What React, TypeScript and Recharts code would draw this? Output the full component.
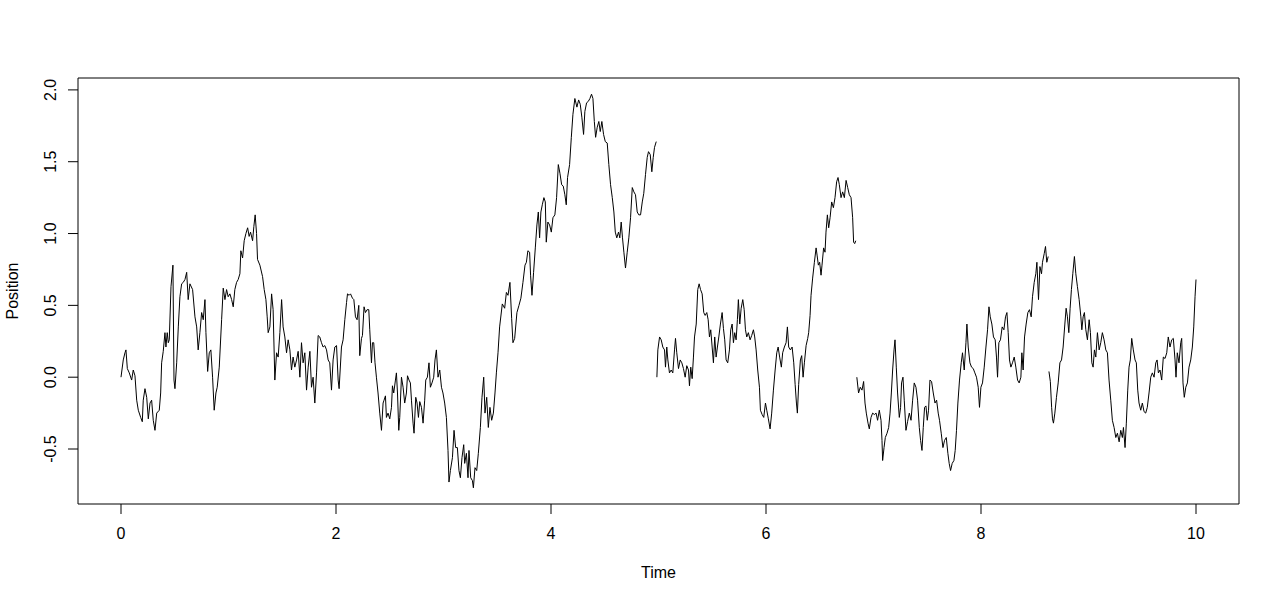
import React from 'react';
import { LineChart, Line, XAxis, YAxis, ReferenceArea } from 'recharts';

// Time / position readings for the four pieces of the path (each restarts at 0)
const seg1Time = [
  0.0, 0.021, 0.037, 0.046, 0.059, 0.077, 0.099, 0.114, 0.13, 0.146, 0.161, 0.183, 0.198, 0.207, 0.223, 0.239,
  0.254, 0.27, 0.285, 0.3, 0.316, 0.332, 0.356, 0.369, 0.378, 0.393, 0.409, 0.418, 0.43, 0.44, 0.449, 0.465,
  0.483, 0.493, 0.502, 0.518, 0.533, 0.548, 0.564, 0.579, 0.595, 0.611, 0.625, 0.641, 0.666, 0.688, 0.704, 0.718,
  0.734, 0.75, 0.765, 0.781, 0.79, 0.806, 0.821, 0.836, 0.852, 0.867, 0.883, 0.895, 0.914, 0.936, 0.951, 0.967,
  0.982, 0.997, 1.013, 1.029, 1.044, 1.059, 1.075, 1.09, 1.106, 1.115, 1.131, 1.146, 1.162, 1.178, 1.192, 1.205,
  1.224, 1.236, 1.248, 1.261, 1.27, 1.292, 1.317, 1.332, 1.348, 1.36, 1.369, 1.385, 1.401, 1.415, 1.431, 1.447,
  1.462, 1.478, 1.494, 1.508, 1.524, 1.54, 1.555, 1.571, 1.586, 1.601, 1.617, 1.633, 1.648, 1.664, 1.679, 1.694,
  1.71, 1.726, 1.741, 1.757, 1.772, 1.787, 1.803, 1.819, 1.834, 1.849, 1.865, 1.88, 1.896, 1.912, 1.927, 1.942,
  1.958, 1.973, 1.989, 2.005, 2.02, 2.029, 2.051, 2.066, 2.082, 2.098, 2.107, 2.122, 2.135, 2.153, 2.166, 2.181,
  2.196, 2.212, 2.221, 2.237, 2.246, 2.261, 2.274, 2.289, 2.305, 2.314, 2.33, 2.339, 2.351, 2.363, 2.376, 2.391,
  2.407, 2.423, 2.438, 2.447, 2.46, 2.469, 2.484, 2.5, 2.516, 2.525, 2.537, 2.553, 2.562, 2.572, 2.584, 2.593,
  2.609, 2.624, 2.639, 2.655, 2.665, 2.679, 2.692, 2.702, 2.717, 2.726, 2.742, 2.754, 2.767, 2.779, 2.795, 2.81,
  2.825, 2.835, 2.85, 2.865, 2.878, 2.893, 2.909, 2.921, 2.934, 2.949, 2.965, 2.981, 2.995, 3.011, 3.027, 3.042,
  3.051, 3.064, 3.083, 3.098, 3.113, 3.129, 3.144, 3.157, 3.172, 3.188, 3.197, 3.213, 3.228, 3.237, 3.253, 3.269,
  3.278, 3.293, 3.309, 3.324, 3.343, 3.358, 3.374, 3.386, 3.402, 3.417, 3.432, 3.448, 3.464, 3.479, 3.492, 3.507,
  3.522, 3.547, 3.569, 3.585, 3.6, 3.618, 3.634, 3.646, 3.662, 3.683, 3.702, 3.72, 3.739, 3.758, 3.771, 3.785,
  3.801, 3.81, 3.823, 3.838, 3.854, 3.869, 3.882, 3.894, 3.906, 3.919, 3.934, 3.947, 3.956, 3.971, 3.987, 4.003,
  4.018, 4.036, 4.052, 4.068, 4.083, 4.099, 4.114, 4.129, 4.142, 4.154, 4.173, 4.189, 4.204, 4.222, 4.241, 4.257,
  4.272, 4.287, 4.303, 4.315, 4.331, 4.347, 4.362, 4.377, 4.39, 4.403, 4.415, 4.43, 4.445, 4.458, 4.473, 4.489,
  4.505, 4.523, 4.538, 4.554, 4.57, 4.585, 4.598, 4.612, 4.628, 4.64, 4.653, 4.665, 4.678, 4.693, 4.709, 4.724,
  4.74, 4.756, 4.771, 4.786, 4.802, 4.817, 4.833, 4.849, 4.863, 4.879, 4.895, 4.907, 4.923, 4.938, 4.951, 4.963,
  4.979,
];
const seg1Pos = [
  0.0, 0.12, 0.17, 0.19, 0.06, 0.03, -0.02, 0.05, 0.01, -0.16, -0.23, -0.28, -0.31, -0.16, -0.08, -0.14,
  -0.29, -0.18, -0.16, -0.3, -0.37, -0.25, -0.23, -0.11, 0.1, 0.18, 0.31, 0.21, 0.31, 0.24, 0.26, 0.63,
  0.78, -0.02, -0.08, 0.1, 0.35, 0.56, 0.65, 0.66, 0.68, 0.73, 0.54, 0.65, 0.61, 0.42, 0.35, 0.19,
  0.31, 0.45, 0.4, 0.54, 0.31, 0.04, 0.17, 0.19, 0.0, -0.23, -0.11, -0.07, 0.07, 0.4, 0.62, 0.54,
  0.61, 0.56, 0.58, 0.54, 0.49, 0.61, 0.66, 0.68, 0.72, 0.88, 0.83, 0.95, 1.0, 1.04, 0.98, 1.01,
  0.95, 1.05, 1.13, 1.0, 0.82, 0.78, 0.7, 0.61, 0.54, 0.42, 0.31, 0.35, 0.58, 0.47, -0.02, 0.17,
  0.14, 0.31, 0.54, 0.35, 0.28, 0.17, 0.26, 0.19, 0.05, 0.14, 0.07, 0.12, 0.18, 0.0, 0.24, 0.1,
  0.17, -0.09, 0.07, 0.18, -0.07, 0.0, -0.18, 0.03, 0.29, 0.28, 0.24, 0.21, 0.22, 0.19, 0.12, 0.1,
  -0.09, 0.12, 0.21, 0.22, -0.02, -0.08, 0.21, 0.26, 0.4, 0.52, 0.58, 0.57, 0.58, 0.55, 0.54, 0.42,
  0.4, 0.5, 0.15, 0.27, 0.29, 0.49, 0.45, 0.47, 0.47, 0.33, 0.1, 0.24, 0.24, 0.1, 0.0, -0.11,
  -0.25, -0.37, -0.18, -0.16, -0.13, -0.28, -0.25, -0.29, -0.21, -0.06, -0.11, -0.02, 0.03, -0.11, -0.37, -0.28,
  0.0, -0.07, -0.18, -0.11, 0.01, -0.02, -0.04, -0.16, -0.32, -0.39, -0.14, -0.18, -0.28, -0.17, -0.21, -0.32,
  -0.16, -0.02, 0.0, 0.1, -0.07, -0.04, 0.0, 0.12, 0.19, 0.0, 0.05, -0.07, -0.11, -0.18, -0.28, -0.51,
  -0.73, -0.65, -0.56, -0.37, -0.49, -0.49, -0.65, -0.7, -0.56, -0.47, -0.6, -0.53, -0.7, -0.51, -0.7, -0.72,
  -0.77, -0.63, -0.65, -0.53, -0.35, -0.14, 0.0, -0.25, -0.14, -0.35, -0.21, -0.3, -0.25, -0.11, 0.03, 0.17,
  0.35, 0.51, 0.48, 0.59, 0.57, 0.66, 0.41, 0.24, 0.27, 0.45, 0.5, 0.55, 0.66, 0.78, 0.8, 0.88,
  0.87, 0.71, 0.57, 0.73, 0.9, 1.06, 1.15, 0.97, 1.15, 1.2, 1.25, 1.22, 0.94, 1.08, 1.06, 1.01,
  1.11, 1.13, 1.25, 1.48, 1.42, 1.34, 1.33, 1.27, 1.2, 1.39, 1.48, 1.67, 1.83, 1.94, 1.88, 1.93,
  1.9, 1.81, 1.69, 1.85, 1.91, 1.92, 1.94, 1.97, 1.94, 1.78, 1.67, 1.74, 1.78, 1.71, 1.78, 1.69,
  1.64, 1.63, 1.48, 1.34, 1.25, 1.15, 1.01, 0.97, 1.01, 0.97, 1.08, 0.97, 0.87, 0.76, 0.87, 0.97,
  1.11, 1.32, 1.29, 1.27, 1.15, 1.13, 1.13, 1.22, 1.28, 1.41, 1.53, 1.57, 1.55, 1.43, 1.53, 1.6,
  1.64,
];

const seg2Time = [
  4.985, 4.994, 5.01, 5.025, 5.04, 5.056, 5.065, 5.077, 5.087, 5.102, 5.118, 5.133, 5.149, 5.158, 5.17, 5.186,
  5.202, 5.217, 5.232, 5.248, 5.263, 5.279, 5.288, 5.3, 5.313, 5.325, 5.335, 5.351, 5.365, 5.378, 5.391, 5.406,
  5.421, 5.434, 5.449, 5.462, 5.474, 5.486, 5.499, 5.511, 5.523, 5.536, 5.548, 5.561, 5.576, 5.592, 5.604, 5.616,
  5.629, 5.644, 5.66, 5.672, 5.685, 5.697, 5.709, 5.722, 5.734, 5.743, 5.756, 5.769, 5.784, 5.797, 5.809, 5.821,
  5.836, 5.852, 5.867, 5.883, 5.895, 5.908, 5.923, 5.939, 5.948, 5.964, 5.979, 5.995, 6.007, 6.022, 6.038, 6.053,
  6.069, 6.085, 6.1, 6.113, 6.127, 6.143, 6.155, 6.171, 6.187, 6.199, 6.211, 6.227, 6.243, 6.258, 6.271, 6.283,
  6.292, 6.304, 6.32, 6.332, 6.345, 6.357, 6.373, 6.388, 6.397, 6.41, 6.419, 6.434, 6.45, 6.466, 6.475, 6.487,
  6.499, 6.512, 6.521, 6.536, 6.549, 6.558, 6.571, 6.583, 6.596, 6.611, 6.627, 6.642, 6.657, 6.67, 6.682, 6.698,
  6.713, 6.729, 6.745, 6.76, 6.775, 6.791, 6.806, 6.815, 6.825, 6.835,
];
const seg2Pos = [
  0.0, 0.19, 0.28, 0.26, 0.21, 0.19, 0.07, 0.21, 0.12, 0.03, 0.05, 0.03, 0.19, 0.27, 0.17, 0.06,
  0.12, 0.1, 0.06, 0.0, 0.08, 0.05, -0.06, 0.07, -0.01, 0.14, 0.28, 0.37, 0.61, 0.65, 0.61, 0.58,
  0.45, 0.43, 0.45, 0.4, 0.28, 0.33, 0.21, 0.1, 0.28, 0.14, 0.21, 0.28, 0.37, 0.45, 0.34, 0.26,
  0.12, 0.1, 0.19, 0.33, 0.37, 0.24, 0.31, 0.26, 0.4, 0.54, 0.37, 0.48, 0.54, 0.47, 0.33, 0.28,
  0.31, 0.26, 0.29, 0.33, 0.28, 0.19, 0.05, -0.07, -0.23, -0.26, -0.28, -0.18, -0.23, -0.29, -0.36, -0.25,
  -0.09, 0.05, 0.17, 0.21, 0.14, 0.07, 0.17, 0.21, 0.24, 0.35, 0.21, 0.19, 0.21, 0.1, -0.05, -0.18,
  -0.25, -0.05, 0.12, 0.15, 0.0, 0.1, 0.22, 0.27, 0.31, 0.43, 0.57, 0.69, 0.8, 0.9, 0.85, 0.78,
  0.8, 0.71, 0.78, 0.9, 0.87, 1.01, 1.13, 1.04, 1.11, 1.22, 1.18, 1.25, 1.36, 1.39, 1.34, 1.25,
  1.29, 1.25, 1.37, 1.32, 1.27, 1.25, 1.11, 0.94, 0.93, 0.95,
];

const seg3Time = [
  6.845, 6.861, 6.877, 6.893, 6.908, 6.921, 6.933, 6.949, 6.961, 6.977, 6.992, 7.008, 7.024, 7.038, 7.054, 7.07,
  7.079, 7.085, 7.098, 7.11, 7.126, 7.141, 7.154, 7.166, 7.178, 7.191, 7.2, 7.212, 7.224, 7.24, 7.252, 7.261,
  7.274, 7.286, 7.302, 7.317, 7.333, 7.349, 7.364, 7.379, 7.395, 7.41, 7.426, 7.438, 7.451, 7.463, 7.475, 7.488,
  7.5, 7.512, 7.525, 7.54, 7.556, 7.572, 7.587, 7.602, 7.614, 7.63, 7.646, 7.661, 7.677, 7.692, 7.704, 7.717,
  7.732, 7.748, 7.76, 7.772, 7.785, 7.8, 7.816, 7.828, 7.844, 7.86, 7.869, 7.881, 7.897, 7.912, 7.928, 7.943,
  7.958, 7.974, 7.986, 7.999, 8.014, 8.03, 8.046, 8.061, 8.074, 8.086, 8.101, 8.116, 8.132, 8.144, 8.154, 8.166,
  8.181, 8.197, 8.213, 8.228, 8.241, 8.253, 8.265, 8.278, 8.293, 8.309, 8.324, 8.34, 8.355, 8.371, 8.38, 8.392,
  8.405, 8.42, 8.436, 8.451, 8.467, 8.479, 8.495, 8.51, 8.52, 8.535, 8.548, 8.563, 8.572, 8.588, 8.6, 8.612,
  8.625,
];
const seg3Pos = [
  0.0, -0.11, -0.07, -0.09, -0.03, -0.18, -0.25, -0.32, -0.36, -0.28, -0.25, -0.26, -0.25, -0.3, -0.23, -0.3,
  -0.44, -0.58, -0.49, -0.42, -0.39, -0.35, -0.25, -0.11, 0.05, 0.19, 0.26, 0.07, -0.11, -0.28, -0.21, -0.04,
  0.0, -0.16, -0.37, -0.31, -0.25, -0.3, -0.16, -0.04, -0.07, -0.16, -0.35, -0.44, -0.51, -0.35, -0.21, -0.2,
  -0.3, -0.23, -0.02, -0.03, -0.11, -0.18, -0.16, -0.25, -0.3, -0.39, -0.49, -0.44, -0.42, -0.53, -0.6, -0.65,
  -0.6, -0.58, -0.51, -0.37, -0.18, -0.02, 0.1, 0.17, 0.05, 0.24, 0.37, 0.21, 0.1, 0.07, 0.06, 0.03,
  0.0, -0.07, -0.21, -0.07, -0.04, 0.07, 0.21, 0.33, 0.49, 0.42, 0.37, 0.28, 0.26, 0.14, 0.0, 0.24,
  0.26, 0.35, 0.33, 0.42, 0.45, 0.31, 0.12, 0.07, 0.1, 0.14, 0.07, -0.02, -0.04, 0.0, 0.17, 0.05,
  0.28, 0.37, 0.45, 0.47, 0.42, 0.56, 0.66, 0.72, 0.8, 0.54, 0.77, 0.72, 0.8, 0.86, 0.91, 0.8,
  0.84,
];

const seg4Time = [
  8.632, 8.645, 8.657, 8.665, 8.674, 8.687, 8.702, 8.718, 8.734, 8.749, 8.764, 8.78, 8.792, 8.804, 8.817, 8.829,
  8.841, 8.854, 8.869, 8.882, 8.897, 8.913, 8.929, 8.938, 8.95, 8.962, 8.975, 8.99, 9.006, 9.018, 9.031, 9.043,
  9.055, 9.068, 9.083, 9.099, 9.114, 9.129, 9.145, 9.161, 9.176, 9.191, 9.207, 9.222, 9.238, 9.254, 9.269, 9.285,
  9.3, 9.315, 9.325, 9.34, 9.352, 9.365, 9.377, 9.389, 9.402, 9.417, 9.433, 9.445, 9.458, 9.47, 9.486, 9.501,
  9.517, 9.532, 9.547, 9.563, 9.579, 9.594, 9.61, 9.626, 9.638, 9.65, 9.665, 9.681, 9.696, 9.712, 9.728, 9.742,
  9.758, 9.774, 9.789, 9.805, 9.814, 9.826, 9.842, 9.858, 9.867, 9.879, 9.891, 9.905, 9.92, 9.935, 9.951, 9.966,
  9.979, 9.991, 10.0,
];
const seg4Pos = [
  0.04, -0.03, -0.21, -0.29, -0.32, -0.25, -0.14, -0.04, 0.1, 0.12, 0.21, 0.37, 0.48, 0.42, 0.31, 0.48,
  0.61, 0.72, 0.84, 0.72, 0.63, 0.54, 0.42, 0.33, 0.42, 0.45, 0.33, 0.26, 0.4, 0.31, 0.1, 0.07,
  0.19, 0.14, 0.31, 0.19, 0.24, 0.31, 0.26, 0.19, 0.17, -0.02, -0.16, -0.3, -0.35, -0.42, -0.39, -0.45,
  -0.37, -0.42, -0.35, -0.49, -0.32, -0.09, 0.07, 0.12, 0.27, 0.19, 0.12, 0.1, -0.09, -0.18, -0.23, -0.18,
  -0.24, -0.25, -0.21, -0.11, 0.0, 0.03, 0.0, 0.1, 0.12, 0.03, 0.05, -0.02, 0.14, 0.13, 0.17, 0.28,
  0.21, 0.26, 0.27, 0.12, 0.0, 0.17, 0.1, 0.24, 0.27, -0.04, -0.14, -0.07, -0.04, 0.07, 0.12, 0.21,
  0.35, 0.56, 0.68,
];

const xTicks = [0, 2, 4, 6, 8, 10];
const yTicks = [-0.5, 0, 0.5, 1, 1.5, 2];

const toRows = (t: number[], v: number[]) => t.map((time, i) => ({ t: time, v: v[i] }));
const segments = [
  toRows(seg1Time, seg1Pos),
  toRows(seg2Time, seg2Pos),
  toRows(seg3Time, seg3Pos),
  toRows(seg4Time, seg4Pos),
];

// R pads the axis range by 4% on each side
const xDomain: [number, number] = [-0.4, 10.4];
const yDomain: [number, number] = [-0.8828, 2.0828];

const FONT = '"Liberation Sans", Arial, sans-serif';

const YTick = ({ x, y, payload }: any) => (
  <text
    x={x}
    y={y}
    transform={`rotate(-90 ${x} ${y})`}
    textAnchor="middle"
    fontSize={16}
    fontFamily={FONT}
    fill="#000"
  >
    {Number(payload.value).toFixed(1)}
  </text>
);

const App: React.FC = () => {
  return (
    <div style={{ position: 'absolute', left: 0, top: 0, background: '#fff' }}>
      <LineChart width={1280} height={602} margin={{ top: 78, right: 41, bottom: 0, left: 0 }}>
        <XAxis
          type="number"
          dataKey="t"
          domain={xDomain}
          allowDataOverflow
          ticks={xTicks}
          interval={0}
          axisLine={false}
          tickLine={{ stroke: '#000' }}
          tickSize={10}
          tickMargin={14}
          height={98}
          tick={{ fill: '#000', fontSize: 16, fontFamily: FONT }}
          label={{
            content: ({ viewBox }: any) => (
              <text
                x={viewBox.x + viewBox.width / 2}
                y={viewBox.y + 74}
                textAnchor="middle"
                fontSize={16}
                fontFamily={FONT}
                fill="#000"
              >
                Time
              </text>
            ),
          }}
        />
        <YAxis
          type="number"
          domain={yDomain}
          allowDataOverflow
          ticks={yTicks}
          interval={0}
          width={78}
          axisLine={false}
          tickLine={{ stroke: '#000' }}
          tickSize={10}
          tickMargin={12}
          tick={<YTick />}
          label={{
            content: ({ viewBox }: any) => {
              const cx = viewBox.x + 18;
              const cy = viewBox.y + viewBox.height / 2;
              return (
                <text
                  x={cx}
                  y={cy}
                  transform={`rotate(-90 ${cx} ${cy})`}
                  textAnchor="middle"
                  fontSize={16}
                  fontFamily={FONT}
                  fill="#000"
                >
                  Position
                </text>
              );
            },
          }}
        />
        <ReferenceArea
          x1={xDomain[0]}
          x2={xDomain[1]}
          y1={yDomain[0]}
          y2={yDomain[1]}
          fill="none"
          stroke="#000"
          strokeWidth={1}
          ifOverflow="visible"
        />
        {segments.map((rows, i) => (
          <Line
            key={i}
            data={rows}
            dataKey="v"
            type="linear"
            stroke="#000"
            strokeWidth={1}
            dot={false}
            activeDot={false}
            isAnimationActive={false}
          />
        ))}
      </LineChart>
    </div>
  );
};

export default App;
